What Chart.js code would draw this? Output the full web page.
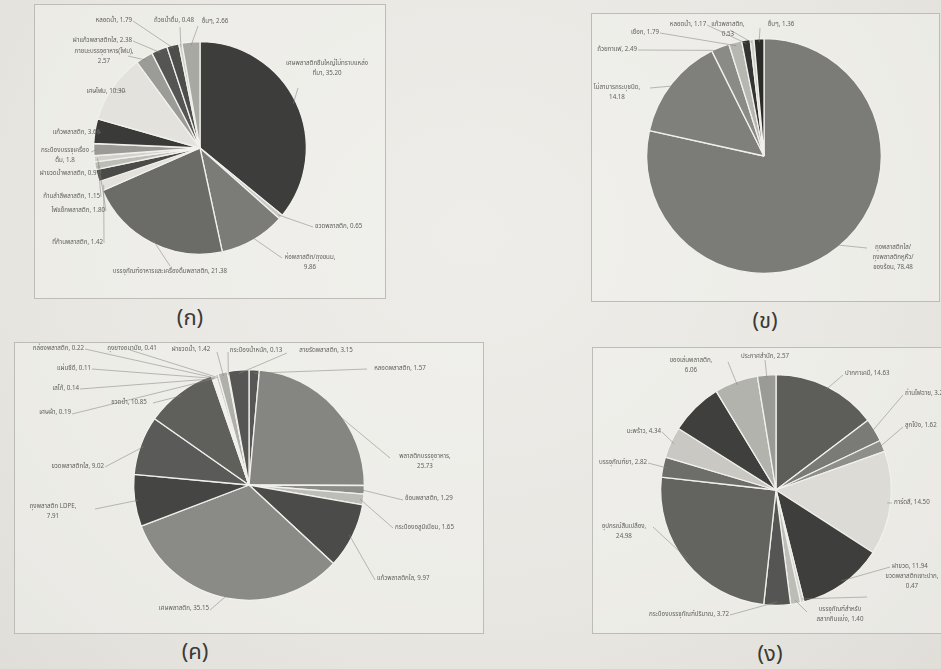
<!DOCTYPE html>
<html><head><meta charset="utf-8">
<script src="https://cdn.jsdelivr.net/npm/chart.js@4.4.1/dist/chart.umd.min.js"></script>
<style>
html,body{margin:0;padding:0;width:941px;height:669px;overflow:hidden;}
body{background:radial-gradient(ellipse at 50% 35%,#eeede9 0%,#e8e7e2 60%,#dfded8 100%);position:relative;font-family:"Noto Sans Thai","Noto Sans",sans-serif;}
.box{position:absolute;border:1px solid #bdbcb6;background:rgba(245,244,240,0.45);}
.cap{position:absolute;font-size:22px;color:#3a3a38;transform:translateX(-50%);}
canvas{position:absolute;left:0;top:0;}
</style></head><body>
<div class="box" style="left:34px;top:4px;width:350px;height:293px"></div>
<div class="box" style="left:591px;top:13px;width:347px;height:287px"></div>
<div class="box" style="left:14px;top:342px;width:468px;height:290px"></div>
<div class="box" style="left:592px;top:347px;width:360px;height:285px"></div>
<div class="cap" style="left:190px;top:302px">(ก)</div>
<div class="cap" style="left:765px;top:305px">(ข)</div>
<div class="cap" style="left:195px;top:636px">(ค)</div>
<div class="cap" style="left:770px;top:638px">(ง)</div>
<canvas id="c1" width="941" height="669"></canvas>
<canvas id="c2" width="941" height="669"></canvas>
<canvas id="c3" width="941" height="669"></canvas>
<canvas id="c4" width="941" height="669"></canvas>
<script>
// ---------- Chart (ก) ----------
const labelsA = ["เศษพลาสติกชิ้นใหญ่ไม่ทราบแหล่ง\nที่มา, 35.20","ขวดพลาสติก, 0.65","ห่อพลาสติก/ถุงขนม,\n9.86","บรรจุภัณฑ์อาหารและเครื่องดื่มพลาสติก, 21.38","ที่ก้านพลาสติก, 1.42","ไฟแช็กพลาสติก, 1.80","ก้านสำลีพลาสติก, 1.15","ฝาขวดน้ำพลาสติก, 0.91","กระป๋องบรรจุเครื่อง\nดื่ม, 1.8","แก้วพลาสติก, 3.66","เศษโฟม, 10.30","ภาชนะบรรจุอาหาร(โฟม),\n2.57","ฝาแก้วพลาสติกใส, 2.38","หลอดน้ำ, 1.79","ถ้วยน้ำดื่ม, 0.48","อื่นๆ, 2.66"];
const valuesA = [35.20,0.65,9.86,21.38,1.42,1.80,1.15,0.91,1.8,3.66,10.30,2.57,2.38,1.79,0.48,2.66];
const colorsA = ["#3d3d3b","#c9c9c5","#7b7b78","#6b6b68","#e2e1dc","#4a4a48","#bdbdb8","#d2d1cc","#9a9a96","#3a3a38","#e3e2dd","#9b9b97","#555553","#4d4d4b","#cfcfca","#a9a9a4"];
// ---------- Chart (ข) ----------
const labelsB = ["ถุงพลาสติกใส/\nถุงพลาสติกหูหิ้ว/\nของร้อน, 78.48","ไม่สามารถระบุชนิด,\n14.18","ถ้วยกาแฟ, 2.49","เชือก, 1.79","หลอดน้ำ, 1.17","แก้วพลาสติก,\n0.53","อื่นๆ, 1.36"];
const valuesB = [78.48,14.18,2.49,1.79,1.17,0.53,1.36];
const colorsB = ["#7b7b77","#7f7f7b","#8a8a86","#b7b7b2","#343432","#cfcfca","#2b2b29"];
// ---------- Chart (ค) ----------
const labelsC = ["หลอดพลาสติก, 1.57","พลาสติกบรรจุอาหาร,\n25.73","ช้อนพลาสติก, 1.29","กระป๋องอลูมิเนียม, 1.65","แก้วพลาสติกใส, 9.97","เศษพลาสติก, 35.15","ถุงพลาสติก LDPE,\n7.91","ขวดพลาสติกใส, 9.02","ขวดน้ำ, 10.85","เศษผ้า, 0.19","เลโก้, 0.14","แผ่นซีดี, 0.11","กล่องพลาสติก, 0.22","ถุงยางอนามัย, 0.41","ฝาขวดน้ำ, 1.42","กระป๋องน้ำหนัก, 0.13","สายรัดพลาสติก, 3.15"];
const valuesC = [1.57,25.73,1.29,1.65,9.97,35.15,7.91,9.02,10.85,0.19,0.14,0.11,0.22,0.41,1.42,0.13,3.15];
const colorsC = ["#575755","#858581","#8c8c88","#bdbdb8","#4b4b49","#8a8a86","#454543","#5a5a58","#5f5f5c","#e0dfda","#d8d7d2","#e6e5e0","#d0cfca","#c8c7c2","#b0b0ab","#dedcd7","#565654"];
// ---------- Chart (ง) ----------
const labelsD = ["ปากกาเคมี, 14.63","ถ่านไฟฉาย, 3.25","ลูกโป่ง, 1.62","การ์ดสี, 14.50","ฝาขวด, 11.94","ขวดพลาสติกเจาะปาก,\n0.47","บรรจุภัณฑ์สำหรับ\nสลากกินแบ่ง, 1.40","กระป๋องบรรจุภัณฑ์ปริมาณ, 3.72","อุปกรณ์สิ้นเปลือง,\n24.98","บรรจุภัณฑ์ยา, 2.82","มะพร้าว, 4.34","","ของเล่นพลาสติก,\n6.06","ประกาศสำนัก, 2.57"];
const valuesD = [14.63,3.25,1.62,14.50,11.94,0.47,1.40,3.72,24.98,2.82,4.34,7.36,6.06,2.57];
const colorsD = ["#5d5d5a","#7a7a76","#8e8e8a","#dcdbd6","#3e3e3c","#d4d3ce","#bdbdb8","#555553","#636360","#6d6d6a","#c9c8c3","#3f3f3d","#b3b3ae","#9a9a96"];

// label layouts: [lineEndX, lineEndY, textX, textY, align]
const layoutA = [[298,88,327,64,"center"],[313,227,315,227,"left"],[282,258,310,258,"center"],[170,266,170,272,"center"],[104,243,103,243,"right"],[106,211,105,211,"right"],[101,197,100,197,"right"],[101,174,100,174,"right"],[91,152,65,151,"center"],[101,133,100,133,"right"],[126,92,125,92,"right"],[128,56,104,52,"center"],[133,41,132,41,"right"],[133,21,132,21,"right"],[180,27,174,21,"center"],[198,26,215,22,"center"]];
const layoutB = [[867,248,893,248,"center"],[650,88,617,88,"center"],[638,50,637,50,"right"],[660,33,659,33,"right"],[707,25,688,25,"center"],[730,30,728,25,"center"],[760,28,781,25,"center"]];
const layoutC = [[367,369,400,369,"center"],[390,458,425,457,"center"],[403,500,405,499,"left"],[393,528,395,528,"left"],[375,580,377,579,"left"],[210,610,209,609,"right"],[95,509,53,507,"center"],[105,467,104,467,"right"],[153,403,129,403,"center"],[72,414,71,413,"right"],[80,389,79,389,"right"],[92,369,91,369,"right"],[85,349,84,349,"right"],[130,350,132,349,"center"],[217,352,191,350,"center"],[228,352,256,351,"center"],[287,353,326,351,"center"]];
const layoutD = [[843,375,845,374,"left"],[903,395,905,394,"left"],[903,427,905,426,"left"],[892,503,894,503,"left"],[890,567,892,567,"left"],[867,597,912,577,"center"],[807,612,840,610,"center"],[730,615,729,615,"right"],[653,527,624,527,"center"],[648,463,647,463,"right"],[662,432,661,432,"right"],null,[728,362,691,361,"center"],[765,360,765,357,"center"]];

const labelPlugin = {
  id:'leaderLabels',
  afterDatasetsDraw(chart, args, opts){
    const ctx = chart.ctx;
    const meta = chart.getDatasetMeta(0);
    const labels = chart.data.labels;
    ctx.save();
    ctx.font = '6.2px "Noto Sans Thai","Noto Sans",sans-serif';
    ctx.textBaseline = 'middle';
    meta.data.forEach((arc, i) => {
      const L = opts.layout[i];
      if (!L || !labels[i]) return;
      const p = arc.getProps(['x','y','startAngle','endAngle','outerRadius'], true);
      const mid = (p.startAngle + p.endAngle)/2;
      const sx = p.x + Math.cos(mid)*p.outerRadius*0.97;
      const sy = p.y + Math.sin(mid)*p.outerRadius*0.97;
      ctx.strokeStyle = 'rgba(130,130,125,0.75)';
      ctx.lineWidth = 0.7;
      ctx.beginPath(); ctx.moveTo(sx, sy); ctx.lineTo(L[0], L[1]); ctx.stroke();
      ctx.fillStyle = '#62625e';
      ctx.textAlign = L[4];
      labels[i].split('\n').forEach((t, k) => ctx.fillText(t, L[2], L[3] + k*10));
    });
    ctx.restore();
  }
};

function makePie(id, labels, values, colors, layout, cx, cy, r){
  new Chart(document.getElementById(id), {
    type:'pie',
    data:{labels:labels, datasets:[{data:values, backgroundColor:colors, borderColor:'#f1f0ec', borderWidth:1.3}]},
    options:{
      responsive:false, animation:false,
      layout:{padding:{left:cx-r, top:cy-r, right:941-(cx+r), bottom:669-(cy+r)}},
      plugins:{legend:{display:false}, tooltip:{enabled:false}, leaderLabels:{layout:layout}}
    },
    plugins:[labelPlugin]
  });
}
makePie('c1', labelsA, valuesA, colorsA, layoutA, 200, 148, 107);
makePie('c2', labelsB, valuesB, colorsB, layoutB, 764, 156, 118);
makePie('c3', labelsC, valuesC, colorsC, layoutC, 249, 485, 116);
makePie('c4', labelsD, valuesD, colorsD, layoutD, 776, 490, 116);
</script>
</body></html>
